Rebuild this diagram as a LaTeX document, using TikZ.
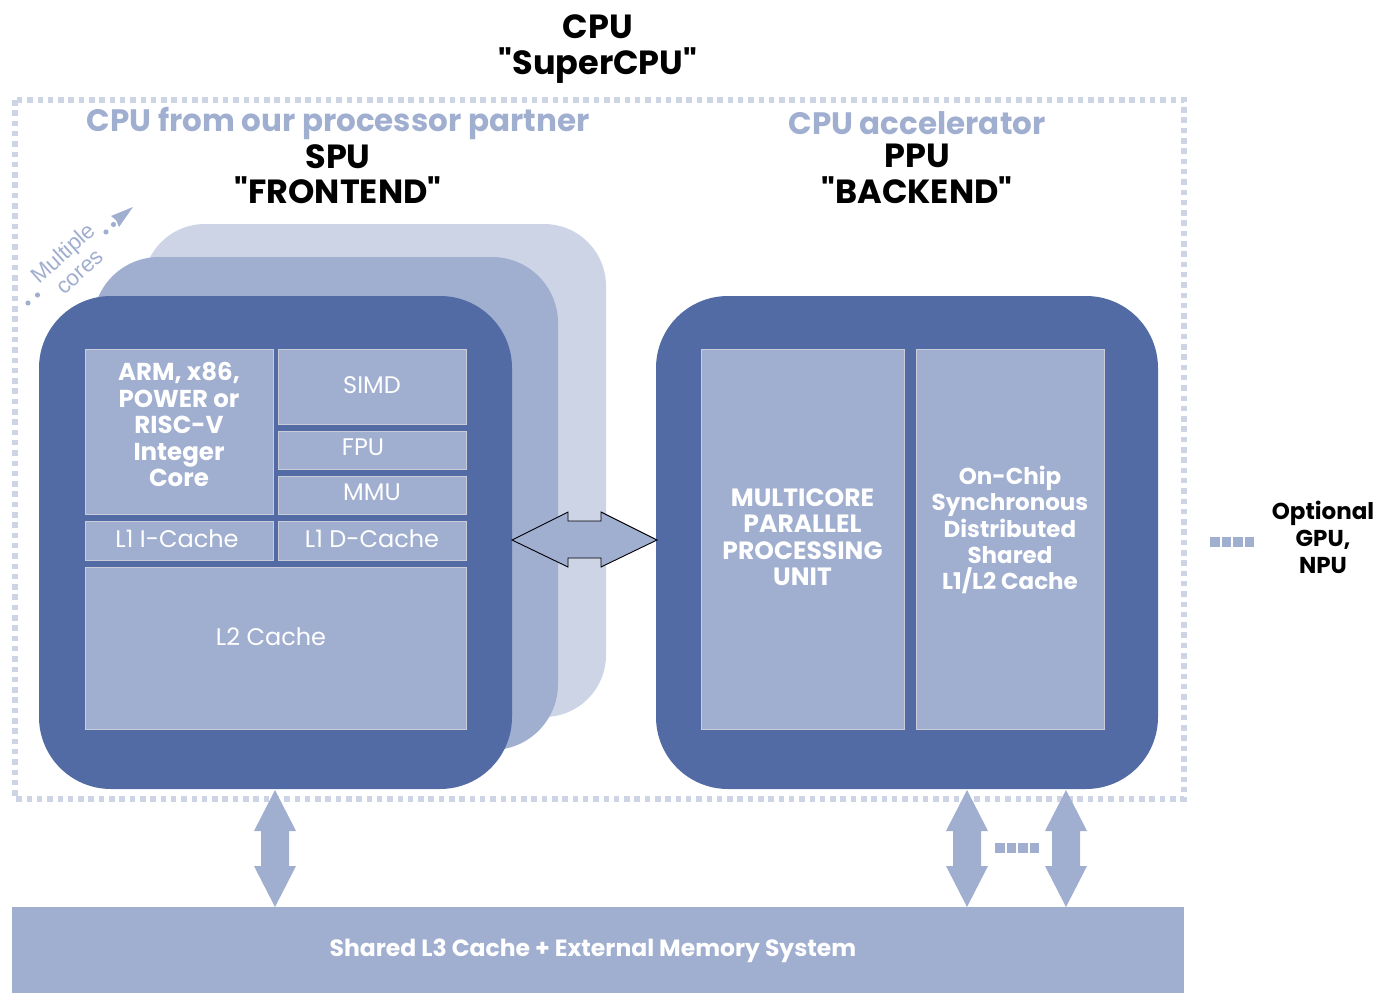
\documentclass[tikz,border=0pt]{standalone}
\usepackage{fontspec}
\setmainfont{Poppins}
\newfontfamily\arialf{Liberation Sans}
\definecolor{cdark}{HTML}{526BA5}
\definecolor{cmid}{HTML}{A0AED0}
\definecolor{clight}{HTML}{CDD4E6}
\definecolor{cedge}{HTML}{C9CDDA}
\newcommand{\qq}{\textquotedbl}
\begin{document}
\begin{tikzpicture}[x=1pt,y=-1pt,
  title/.style={font=\bfseries\fontsize{33.5}{35.5}\selectfont, text=black, align=center, inner sep=0},
  subtitle/.style={font=\bfseries\fontsize{31}{34}\selectfont, text=cmid, inner sep=0},
  unit/.style={draw=cedge, line width=1pt, fill=cmid, inner sep=0},
  regtxt/.style={font=\fontsize{24}{27}\selectfont, text=white, inner sep=0},
  boldtxt/.style={font=\bfseries\fontsize{24.5}{26.5}\selectfont, text=white, align=center, inner sep=0},
  blackbold/.style={font=\bfseries\fontsize{23}{27}\selectfont, text=black, align=center, inner sep=0},
  sqdot/.style={fill=cmid, minimum size=9.5pt, inner sep=0},
  blockarrow/.style={fill=cmid},
]
\useasboundingbox (0,0) rectangle (1377,993);
% outer dotted border
\draw[clight, line width=5.5pt, dash pattern=on 5.5pt off 4.8pt] (15,100) rectangle (1184,799);
% titles
\node[title] (cpu) at (598,49) {CPU\\\qq SuperCPU\qq};
\node[subtitle] (partner) at (338,123) {CPU from our processor partner};
\node[title] (spu) at (338,174) {SPU\\\qq FRONTEND\qq};
\node[subtitle] (accel) at (917,123) {CPU accelerator};
\node[title] (ppu) at (917,174) {PPU\\\qq BACKEND\qq};
% stacked cores
\fill[clight, rounded corners=62pt] (143,224) rectangle (606,717);
\fill[cmid, rounded corners=66pt] (93,257) rectangle (558,750);
\fill[cdark, rounded corners=72pt] (39,296) rectangle (512,789);
\fill[cdark, rounded corners=72pt] (656,296) rectangle (1158,789);
% left inner units
\node[unit, minimum width=188pt, minimum height=165pt] (arm) at (179,431.5) {};
\node[boldtxt] (armt) at (179,424.5) {ARM, x86,\\POWER or\\RISC-V\\Integer\\Core};
\node[unit, minimum width=188pt, minimum height=75pt] (simd) at (372,386.5) {};
\node[regtxt] (simdt) at (372,385) {SIMD};
\node[unit, minimum width=188pt, minimum height=38pt] (fpu) at (372,450) {};
\node[regtxt] (fput) at (363,447) {FPU};
\node[unit, minimum width=188pt, minimum height=38pt] (mmu) at (372,495) {};
\node[regtxt] (mmut) at (372,492) {MMU};
\node[unit, minimum width=188pt, minimum height=39pt] (l1i) at (179,540.5) {};
\node[regtxt] (l1it) at (177,539) {L1 I-Cache};
\node[unit, minimum width=188pt, minimum height=39pt] (l1d) at (372,540.5) {};
\node[regtxt] (l1dt) at (372,539) {L1 D-Cache};
\node[unit, minimum width=381pt, minimum height=162pt] (l2) at (275.5,648) {};
\node[regtxt] (l2t) at (271,637) {L2 Cache};
% right inner units
\node[unit, minimum width=203pt, minimum height=380pt] (mpu) at (802.5,539) {};
\node[boldtxt, font=\bfseries\fontsize{25}{26.5}\selectfont] (mput) at (802.5,537) {MULTICORE\\PARALLEL\\PROCESSING\\UNIT};
\node[unit, minimum width=188pt, minimum height=380pt] (cache) at (1010,539) {};
\node[boldtxt, font=\bfseries\fontsize{23}{26.3}\selectfont] (cachet) at (1010,530) {On-Chip\\Synchronous\\Distributed\\Shared\\L1/L2 Cache};
% horizontal double block arrow
\coordinate (hl) at (512,540);
\coordinate (hr) at (657,540);
\draw[blockarrow, draw=black, line width=0.9pt] (hl) -- (568,512) -- (568,521) -- (601,521) -- (601,512) -- (hr) -- (601,567) -- (601,558) -- (568,558) -- (568,567) -- cycle;
% bottom bar
\node[fill=cmid, minimum width=1172pt, minimum height=86pt, inner sep=0] (l3) at (598,950) {};
\node[text=white, inner sep=0, font=\bfseries\fontsize{23.5}{26}\selectfont] (l3t) at (593,951) {Shared L3 Cache + External Memory System};
% vertical double block arrows
\foreach \cx/\nm in {275/va, 967/vb, 1066/vc}{
  \coordinate (\nm top) at (\cx,790);
  \coordinate (\nm bot) at (\cx,907);
  \fill[blockarrow] (\nm top) -- (\cx+21,831) -- (\cx+14,831) -- (\cx+14,866) -- (\cx+21,866) -- (\nm bot) -- (\cx-21,866) -- (\cx-14,866) -- (\cx-14,831) -- (\cx-21,831) -- cycle;
}
% square dots
\foreach \i in {0,1,2,3}{
  \node[sqdot] (dm\i) at (1000+11.5*\i,848) {};
  \node[sqdot] (dr\i) at (1215+11.5*\i,542) {};
}
% optional GPU NPU
\node[blackbold] (opt) at (1323,537) {Optional\\GPU,\\NPU};
% multiple cores
\node[text=cmid, font=\arialf\fontsize{22.5}{25}\selectfont, rotate=42, align=center, inner sep=0] (mc) at (71,262) {Multiple\\cores};
\fill[cmid] (28,303) circle (2.6pt) (37.5,295) circle (2.6pt) (106,232) circle (2.6pt) (113.5,224.5) circle (2.6pt);
\coordinate (mctip) at (133,207);
\fill[cmid] (mctip) -- (111,216) -- (116,220) -- (119,227) -- cycle;
\end{tikzpicture}
\end{document}
